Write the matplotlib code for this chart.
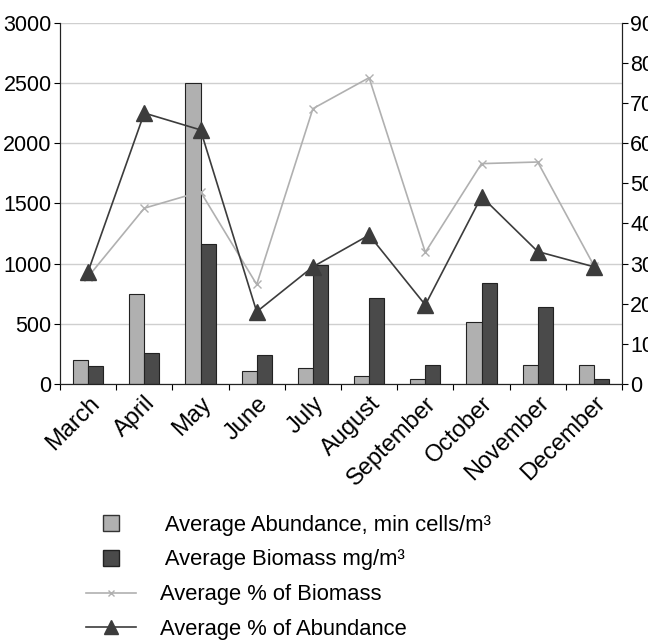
import numpy as np
import matplotlib
matplotlib.use("Agg")
import matplotlib.pyplot as plt
import matplotlib.transforms as mtransforms
from matplotlib.lines import Line2D

plt.rcParams['font.family'] = ['Liberation Sans', 'DejaVu Sans']

months = ["March", "April", "May", "June", "July", "August",
          "September", "October", "November", "December"]
abundance = [200, 750, 2500, 105, 135, 70, 40, 518, 155, 155]
biomass = [150, 255, 1165, 240, 990, 717, 160, 840, 637, 40]
pct_biomass = [26.7, 43.8, 47.9, 24.8, 68.6, 76.3, 32.8, 54.9, 55.3, 29.5]
pct_abundance = [28.0, 67.5, 63.3, 18.0, 29.2, 37.1, 19.7, 46.7, 33.0, 29.2]

light = "#b0b0b0"
dark = "#4a4a4a"

fig = plt.figure(figsize=(6.48, 6.4), dpi=100)
ax = fig.add_axes([0.0926, 0.4, 0.8673, 0.5645])
ax2 = ax.twinx()

x = np.arange(len(months))
w = 0.27
ax.bar(x - w / 2, abundance, w, color=light, edgecolor="#222222", linewidth=0.8, zorder=2)
ax.bar(x + w / 2, biomass, w, color=dark, edgecolor="#222222", linewidth=0.8, zorder=2)

ax2.plot(x, pct_biomass, color=light, marker="x", markersize=6, linewidth=1.2, zorder=3)
ax2.plot(x, pct_abundance, color="#3c3c3c", marker="^", markersize=11, linewidth=1.2, zorder=3)

ax.set_xlim(-0.5, len(months) - 0.5)
ax.set_ylim(0, 3000)
ax2.set_ylim(0, 90)
ax.set_yticks(range(0, 3001, 500))
ax2.set_yticks(range(0, 91, 10))
ax.yaxis.grid(True, color="#cfcfcf", linewidth=1.0)
ax.set_axisbelow(True)

# ticks between groups, labels at group centres
ax.set_xticks(np.arange(len(months) + 1) - 0.5, minor=False)
ax.set_xticklabels([])
ax.set_xticks(x, minor=True)
ax.set_xticklabels(months, minor=True, rotation=45, ha="right", rotation_mode="anchor", fontsize=17)
shift = mtransforms.ScaledTranslation(6 / 100, 0, fig.dpi_scale_trans)
for lbl in ax.get_xticklabels(minor=True):
    lbl.set_transform(lbl.get_transform() + shift)
ax.tick_params(axis="x", which="minor", length=0, pad=6)
ax.tick_params(axis="x", which="major", length=4, direction="out")
ax.tick_params(axis="y", labelsize=15.5, length=4, pad=2)
ax2.tick_params(axis="y", labelsize=15.5, length=4, pad=2)

for a in (ax, ax2):
    a.spines["top"].set_visible(False)
    for s in ("left", "right", "bottom"):
        a.spines[s].set_color("#222222")

handles = [
    Line2D([], [], linestyle="none", marker="s", markersize=11,
           markerfacecolor=light, markeredgecolor="#333333"),
    Line2D([], [], linestyle="none", marker="s", markersize=11,
           markerfacecolor=dark, markeredgecolor="#222222"),
    Line2D([], [], color=light, marker="x", markersize=5, linewidth=1.2),
    Line2D([], [], color="#3c3c3c", marker="^", markersize=10, linewidth=1.2),
]
labels = [
    " Average Abundance, min cells/m³",
    " Average Biomass mg/m³",
    "Average % of Biomass",
    "Average % of Abundance",
]
fig.legend(handles, labels, loc="upper left", bbox_to_anchor=(0.1155, 0.213),
           frameon=False, borderpad=0, handlelength=2.28, handletextpad=1.1,
           labelspacing=0.63, prop={"family": "Liberation Sans", "size": 15.8})

fig.savefig("out.png", dpi=100)
